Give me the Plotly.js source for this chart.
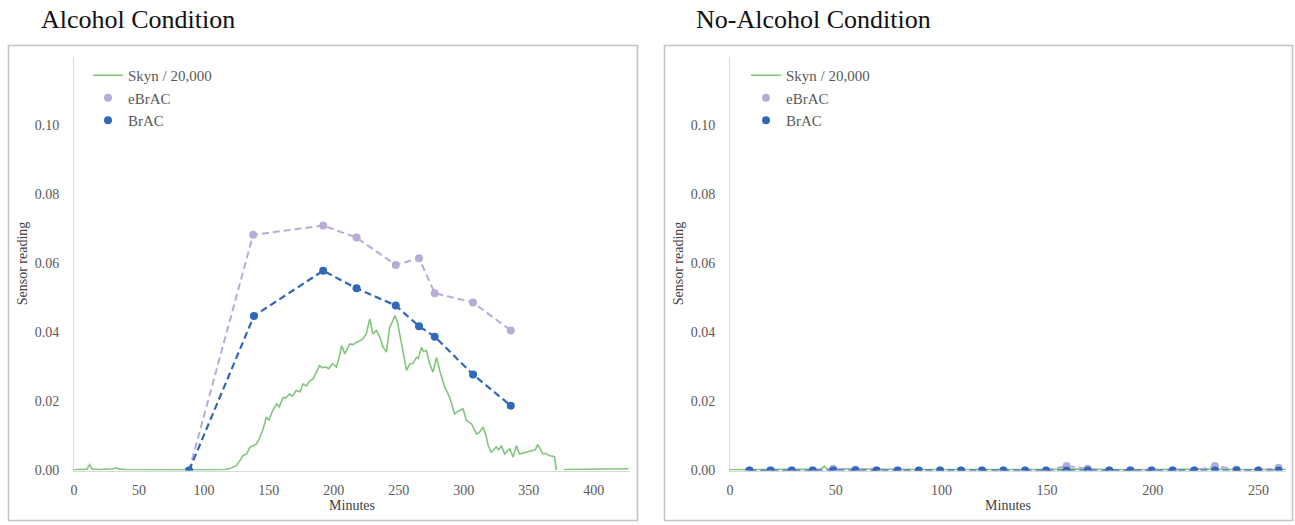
<!DOCTYPE html>
<html>
<head>
<meta charset="utf-8">
<script src="https://cdn.plot.ly/plotly-3.0.1.min.js"></script>
<style>
html,body{margin:0;padding:0;background:#fff;}
#chart{width:1295px;height:525px;}
</style>
</head>
<body>
<div id="chart"></div>
<script>
// ---------- Data: Alcohol condition ----------
const alcSkynMin = [0,5,10,12,14,20,25,30,32,35,40,50,60,70,80,88,95,100,110,116,
  120,125,128,130,133,135.4,138,140.5,143,145.6,148,150,153,156,158,161,163,166,168,171,174,176.4,179,181.5,184,186.7,189,191,194,196,199,202,204,206,208.5,210,212.3,215,217.5,220,222.5,225,227.7,230,232.8,235.4,238,240.5,243,245,247,249,250.8,253.3,256,258.5,261,263.6,265,267.5,269,271.3,273.8,276.4,279,281.5,283,285.4,287,289.2,291,293,295,297,299.5,302,304,306,308,309.8,312,315,317.5,319,321.3,323,325,327,329,331.5,333,335.4,338,340.5,343,345,348,350,353,355,357,359,361,363,366,368,370,371.3,373,377,380,390,400,410,420,427];
const alcSkyn = [0.0002,0.0003,0.0004,0.0017,0.0004,0.0003,0.0005,0.0005,0.0008,0.0004,0.0003,0.0002,0.0002,0.0002,0.0002,0.0003,0.0002,0.0002,0.0002,0.0003,
  0.0006,0.0014,0.0030,0.0043,0.0048,0.0068,0.0072,0.0077,0.0095,0.0120,0.0155,0.0145,0.0174,0.0193,0.0185,0.0212,0.0210,0.0222,0.0215,0.0232,0.0228,0.0251,0.0245,0.0260,0.0265,0.0285,0.0304,0.0298,0.0300,0.0295,0.0310,0.0300,0.0325,0.0362,0.0338,0.0350,0.0367,0.0365,0.0372,0.0375,0.0382,0.0396,0.0440,0.0396,0.0406,0.0386,0.0357,0.0343,0.0415,0.0430,0.0449,0.0430,0.0396,0.0338,0.0290,0.0309,0.0310,0.0328,0.0325,0.0357,0.0345,0.0348,0.0309,0.0285,0.0328,0.0290,0.0270,0.0241,0.0230,0.0212,0.0190,0.0164,0.0170,0.0174,0.0179,0.0145,0.0140,0.0135,0.0120,0.0106,0.0110,0.0126,0.0097,0.0070,0.0053,0.0060,0.0068,0.0060,0.0072,0.0048,0.0055,0.0063,0.0039,0.0072,0.0048,0.0050,0.0053,0.0055,0.0058,0.0060,0.0075,0.0060,0.0048,0.0050,0.0043,0.0042,0.0039,0.0001,null,0.0003,0.0003,0.0003,0.0003,0.0003,0.0004,0.0005];
const alcBracMin = [88.6,138.5,191.8,217.5,247.7,265.6,277.7,307.2,336.2];
const alcBrac = [0.000,0.0448,0.0579,0.0528,0.0478,0.0418,0.0388,0.0278,0.0188];
const alcEbracMin = [88.6,137.9,191.8,217.5,247.7,265.6,277.7,307.2,336.2];
const alcEbrac = [0.000,0.0683,0.0710,0.0675,0.0596,0.0615,0.0514,0.0487,0.0406];

// ---------- Data: No-alcohol condition ----------
const noSkynMin = [0,10,20,30,40,43,44.6,46,50,60,70,80,90,100,110,120,130,140,150,160,170,180,190,200,210,220,230,240,250,260,263];
const noSkyn = [0.0002,0.0002,0.0003,0.0002,0.0003,0.0004,0.0012,0.0004,0.0005,0.0004,0.0003,0.0004,0.0003,0.0003,0.0002,0.0003,0.0003,0.0002,0.0003,0.0004,0.0003,0.0003,0.0002,0.0003,0.0004,0.0003,0.0004,0.0003,0.0003,0.0004,0.0003];
const noBracMin = [9.2,19.2,29.2,39.1,48.8,59.3,69.3,79.3,89.3,99.4,109.3,119.2,129.3,139.6,149.5,159.2,169.2,179.4,189.4,199.4,209.4,219.6,229.4,239.6,249.9,259.5];
const noBrac = [0,0,0,0,0,0,0,0,0,0,0,0,0,0,0,0,0,0,0,0,0,0,0,0,0,0];
const noEbracMin = [9.2,19.2,29.2,39.1,48.8,59.3,69.3,79.3,89.3,99.4,109.3,119.2,129.3,139.6,149.5,159.2,169.2,179.4,189.4,199.4,209.4,219.6,229.4,239.6,249.9,259.5];
const noEbrac = [0,0,0,0,0.0005,0.0003,0,0,0,0,0,0,0,0,0,0.0013,0.0005,0,0,0,0,0,0.0013,0.0003,0,0.0008];

const yTicks = [0,0.02,0.04,0.06,0.08,0.10];
const yTickText = ['0.00','0.02','0.04','0.06','0.08','0.10'];
const alcXTicks = [0,50,100,150,200,250,300,350,400];
const noXTicks = [0,50,100,150,200,250];
const seriesNames = ['Skyn / 20,000','eBrAC','BrAC'];
const panelTitles = ['Alcohol Condition','No-Alcohol Condition'];

// ---------- Styles ----------
const GREEN = '#80c77b', PURPLE = '#b9abd8', BLUE = '#2f68b8';
const SERIF = 'Liberation Serif, Times New Roman, serif';
const TICKC = '#595959';

function skynTrace(x, y, xa, ya, lg) {
  return {x:x, y:y, xaxis:xa, yaxis:ya, type:'scatter', mode:'lines', name:seriesNames[0],
    line:{color:GREEN, width:1.6}, legend:lg, connectgaps:false, hoverinfo:'skip'};
}
function ptTrace(x, y, xa, ya, color, w) {
  return {x:x, y:y, xaxis:xa, yaxis:ya, type:'scatter', mode:'lines+markers', showlegend:false,
    line:{color:color, width:w, dash:'7px,4px'}, marker:{color:color, size:8}, hoverinfo:'skip'};
}
function legTrace(name, color, xa, ya, lg) {
  return {x:[null], y:[null], xaxis:xa, yaxis:ya, type:'scatter', mode:'markers', name:name,
    marker:{color:color, size:8}, legend:lg};
}

const traces = [
  skynTrace(alcSkynMin, alcSkyn, 'x', 'y', 'legend'),
  ptTrace(alcEbracMin, alcEbrac, 'x', 'y', PURPLE, 2),
  ptTrace(alcBracMin, alcBrac, 'x', 'y', BLUE, 2.2),
  legTrace(seriesNames[1], PURPLE, 'x', 'y', 'legend'),
  legTrace(seriesNames[2], BLUE, 'x', 'y', 'legend'),
  skynTrace(noSkynMin, noSkyn, 'x2', 'y2', 'legend2'),
  ptTrace(noEbracMin, noEbrac, 'x2', 'y2', PURPLE, 2),
  ptTrace(noBracMin, noBrac, 'x2', 'y2', BLUE, 2.2),
  legTrace(seriesNames[1], PURPLE, 'x2', 'y2', 'legend2'),
  legTrace(seriesNames[2], BLUE, 'x2', 'y2', 'legend2')
];

const W = 1295, H = 525;
const px = v => v / W, py = v => 1 - v / H;

function xAxis(dom, range, ticks, anchor) {
  return {domain:dom, range:range, anchor:anchor, tickvals:ticks, showgrid:false, zeroline:false,
    showline:true, linecolor:'#d9d9d9', linewidth:1, ticks:'', ticklabelstandoff:7,
    tickfont:{family:SERIF, size:14, color:TICKC},
    title:{text:'Minutes', font:{family:SERIF, size:14, color:'#404040'}, standoff:2}, fixedrange:true};
}
function yAxis(anchor) {
  return {domain:[py(470.5), py(56.5)], range:[0,0.12], anchor:anchor, tickvals:yTicks, ticktext:yTickText,
    showgrid:false, zeroline:false, showline:true, linecolor:'#d9d9d9', linewidth:1, ticks:'', ticklabelstandoff:11,
    tickfont:{family:SERIF, size:14, color:TICKC},
    title:{text:'Sensor reading', font:{family:SERIF, size:14, color:'#404040'}, standoff:3}, fixedrange:true};
}

const legendStyle = (xl) => ({x:px(xl), y:py(59), xanchor:'left', yanchor:'top', bgcolor:'rgba(0,0,0,0)',
  font:{family:SERIF, size:15, color:TICKC}, traceorder:'normal', itemclick:false, itemdoubleclick:false});

const layout = {
  width:W, height:H, margin:{l:0, r:0, t:0, b:0}, paper_bgcolor:'#fff', plot_bgcolor:'#fff',
  font:{family:SERIF},
  xaxis: xAxis([px(74), px(630)], [0,428], alcXTicks, 'y'),
  yaxis: yAxis('x'),
  xaxis2: xAxis([px(730), px(1286)], [0,263], noXTicks, 'y2'),
  yaxis2: yAxis('x2'),
  legend: legendStyle(88),
  legend2: legendStyle(746),
  shapes: [
    {type:'rect', xref:'paper', yref:'paper', x0:px(8.5), x1:px(637.5), y0:py(520.5), y1:py(45.5),
      line:{color:'#c4c4c4', width:1.6}, layer:'below'},
    {type:'rect', xref:'paper', yref:'paper', x0:px(664.5), x1:px(1292.5), y0:py(520.5), y1:py(45.5),
      line:{color:'#c4c4c4', width:1.6}, layer:'below'}
  ],
  annotations: [
    {text:panelTitles[0], xref:'paper', yref:'paper', x:px(39), y:py(19), xanchor:'left', yanchor:'middle',
      showarrow:false, font:{family:SERIF, size:26, color:'#111'}},
    {text:panelTitles[1], xref:'paper', yref:'paper', x:px(694), y:py(19), xanchor:'left', yanchor:'middle',
      showarrow:false, font:{family:SERIF, size:26, color:'#111'}}
  ],
  showlegend:true
};

Plotly.newPlot('chart', traces, layout, {staticPlot:true, displayModeBar:false});
</script>
</body>
</html>
